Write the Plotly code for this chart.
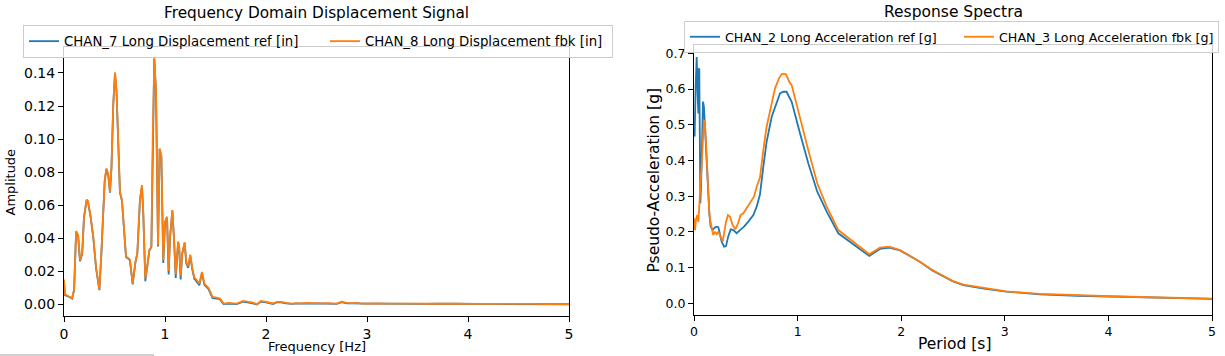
import plotly.graph_objects as go

# ---------------- Left chart: frequency domain displacement ----------------
freq_hz = [0.00, 0.01, 0.04, 0.06, 0.08, 0.10, 0.11, 0.12, 0.14, 0.158, 0.18, 0.198, 0.224, 0.237,
           0.264, 0.29, 0.317, 0.33, 0.35, 0.37, 0.39, 0.403, 0.42, 0.437, 0.455, 0.47, 0.488, 0.505,
           0.52, 0.538, 0.554, 0.574, 0.594, 0.614, 0.634, 0.653, 0.68, 0.707, 0.726, 0.752, 0.772,
           0.785, 0.805, 0.825, 0.845, 0.865, 0.878, 0.894, 0.911, 0.931, 0.947, 0.964, 0.983, 1.00,
           1.02, 1.036, 1.05, 1.073, 1.09, 1.106, 1.13, 1.14, 1.155, 1.17, 1.195, 1.21, 1.23, 1.25,
           1.27, 1.29, 1.31, 1.34, 1.366, 1.39, 1.405, 1.43, 1.45, 1.47, 1.51, 1.545, 1.564, 1.58,
           1.63, 1.71, 1.775, 1.84, 1.87, 1.91, 1.95, 2.00, 2.07, 2.11, 2.15, 2.2, 2.25, 2.3, 2.35,
           2.4, 2.45, 2.5, 2.55, 2.6, 2.65, 2.7, 2.75, 2.8, 2.85, 2.9, 2.95, 3.0, 3.1, 3.2, 3.3, 3.4,
           3.5, 3.6, 3.7, 3.8, 3.9, 4.0, 4.2, 4.4, 4.6, 4.8, 5.0]

disp_fbk = [0.0150, 0.0060, 0.0050, 0.0044, 0.0036, 0.0090, 0.0310, 0.0444, 0.0418, 0.0267, 0.0310,
            0.0530, 0.0634, 0.0625, 0.0530, 0.0408, 0.0226, 0.0180, 0.0089, 0.0310, 0.0590, 0.0750,
            0.0822, 0.0790, 0.0680, 0.0830, 0.1216, 0.1404, 0.1290, 0.0990, 0.0680, 0.0630, 0.0468,
            0.0290, 0.0280, 0.0270, 0.0125, 0.0257, 0.0310, 0.0634, 0.0721, 0.0550, 0.0156, 0.0226,
            0.0330, 0.0350, 0.0990, 0.1490, 0.1290, 0.0358, 0.0943, 0.0900, 0.0267, 0.0500, 0.0530,
            0.0202, 0.0408, 0.0570, 0.0390, 0.0180, 0.0380, 0.0350, 0.0170, 0.0310, 0.0375, 0.0260,
            0.0230, 0.0300, 0.0220, 0.0163, 0.0150, 0.0125, 0.0196, 0.0125, 0.0115, 0.0100, 0.0073,
            0.0044, 0.0040, 0.0034, 0.0018, 0.0004, 0.0008, 0.0004, 0.0020, 0.0015, 0.0010, 0.0000,
            0.0020, 0.0015, 0.0005, 0.0015, 0.0015, 0.0008, 0.0004, 0.0007, 0.0005, 0.0008, 0.0006,
            0.0007, 0.0006, 0.0007, 0.0005, 0.0004, 0.0016, 0.0008, 0.0007, 0.0008, 0.0004, 0.0005,
            0.0006, 0.0004, 0.0005, 0.0004, 0.0004, 0.0003, 0.0004, 0.0003, 0.0003, 0.0002, 0.0003,
            0.0002, 0.0002, 0.0001, 0.0001]

disp_ref = [0.0130, 0.0055, 0.0048, 0.0042, 0.0034, 0.0085, 0.0300, 0.0440, 0.0414, 0.0260, 0.0305,
            0.0526, 0.0630, 0.0621, 0.0526, 0.0404, 0.0220, 0.0175, 0.0085, 0.0305, 0.0586, 0.0746,
            0.0818, 0.0786, 0.0675, 0.0826, 0.1212, 0.1400, 0.1286, 0.0986, 0.0676, 0.0626, 0.0464,
            0.0286, 0.0276, 0.0266, 0.0120, 0.0253, 0.0306, 0.0630, 0.0717, 0.0546, 0.0140, 0.0220,
            0.0326, 0.0346, 0.0986, 0.1486, 0.1286, 0.0350, 0.0939, 0.0890, 0.0250, 0.0495, 0.0526,
            0.0180, 0.0404, 0.0566, 0.0385, 0.0160, 0.0376, 0.0346, 0.0150, 0.0305, 0.0371, 0.0250,
            0.0220, 0.0295, 0.0212, 0.0155, 0.0140, 0.0115, 0.0190, 0.0118, 0.0108, 0.0093, 0.0066,
            0.0038, 0.0035, 0.0029, 0.0013, 0.0001, 0.0004, 0.0001, 0.0016, 0.0011, 0.0006, -0.0002,
            0.0016, 0.0011, 0.0002, 0.0012, 0.0012, 0.0005, 0.0002, 0.0004, 0.0003, 0.0005, 0.0004,
            0.0005, 0.0004, 0.0005, 0.0003, 0.0002, 0.0013, 0.0006, 0.0005, 0.0006, 0.0003, 0.0004,
            0.0004, 0.0003, 0.0004, 0.0003, 0.0003, 0.0002, 0.0003, 0.0002, 0.0002, 0.0001, 0.0002,
            0.0001, 0.0001, 0.0001, 0.0000]

# ---------------- Right chart: response spectra ----------------
period_ref = [0.000, 0.006, 0.016, 0.026, 0.035, 0.042, 0.045, 0.051, 0.058, 0.061, 0.068, 0.077,
              0.087, 0.096, 0.109, 0.122, 0.135, 0.148, 0.161, 0.180, 0.193, 0.212, 0.235, 0.251,
              0.267, 0.290, 0.309, 0.330, 0.354, 0.380, 0.412, 0.444, 0.483, 0.524, 0.573, 0.605,
              0.637, 0.669, 0.701, 0.750, 0.790, 0.830, 0.862, 0.894, 0.920, 0.943, 1.023, 1.103,
              1.190, 1.281, 1.393, 1.538, 1.692, 1.795, 1.885, 1.988, 2.180, 2.300, 2.405, 2.500,
              2.600, 2.800, 3.015, 3.340, 3.700, 4.020, 4.500, 5.000]
psa_ref = [0.485, 0.467, 0.607, 0.690, 0.588, 0.532, 0.658, 0.655, 0.401, 0.280, 0.327, 0.485,
           0.565, 0.550, 0.467, 0.373, 0.289, 0.252, 0.2145, 0.205, 0.210, 0.2145, 0.213, 0.196,
           0.1725, 0.1585, 0.160, 0.1865, 0.207, 0.205, 0.196, 0.205, 0.2145, 0.2285, 0.247, 0.2705,
           0.305, 0.3825, 0.452, 0.5225, 0.557, 0.588, 0.5925, 0.5925, 0.577, 0.5645, 0.476, 0.392,
           0.3125, 0.2565, 0.196, 0.165, 0.1325, 0.152, 0.156, 0.148, 0.1165, 0.092, 0.0745, 0.061,
           0.051, 0.041, 0.0325, 0.025, 0.021, 0.0185, 0.015, 0.012]

period_fbk = [0.000, 0.010, 0.019, 0.032, 0.042, 0.051, 0.061, 0.071, 0.084, 0.0965, 0.109, 0.122,
              0.135, 0.148, 0.161, 0.174, 0.186, 0.203, 0.219, 0.235, 0.257, 0.277, 0.290, 0.309,
              0.328, 0.347, 0.373, 0.399, 0.425, 0.450, 0.476, 0.508, 0.540, 0.579, 0.605, 0.637,
              0.669, 0.701, 0.750, 0.782, 0.820, 0.846, 0.888, 0.920, 0.943, 1.023, 1.103, 1.190,
              1.281, 1.393, 1.538, 1.692, 1.795, 1.885, 1.988, 2.180, 2.300, 2.405, 2.500, 2.600,
              2.800, 3.015, 3.340, 3.700, 4.020, 4.500, 5.000]
psa_fbk = [0.238, 0.205, 0.234, 0.247, 0.228, 0.2985, 0.322, 0.373, 0.4666, 0.513, 0.490, 0.410,
           0.3265, 0.252, 0.224, 0.2005, 0.191, 0.2005, 0.193, 0.2005, 0.187, 0.1725, 0.196, 0.2285,
           0.247, 0.2425, 0.219, 0.207, 0.224, 0.247, 0.252, 0.266, 0.280, 0.2985, 0.3265, 0.352,
           0.429, 0.4946, 0.560, 0.602, 0.630, 0.642, 0.642, 0.620, 0.611, 0.518, 0.429, 0.336,
           0.2705, 0.205, 0.1725, 0.137, 0.1557, 0.1585, 0.149, 0.1165, 0.093, 0.0755, 0.062, 0.052,
           0.042, 0.033, 0.026, 0.022, 0.0195, 0.016, 0.013]

xtick_vals = [0, 1, 2, 3, 4, 5]

W, H = 1225, 356
BLUE, ORANGE = "#1f77b4", "#ff7f0e"
FONT = "DejaVu Sans"


def px(x):
    return x / W


def py(y):
    return 1 - y / H


fig = go.Figure()
fig.add_trace(go.Scatter(x=freq_hz, y=disp_ref, mode="lines", name="CHAN_7 Long Displacement ref [in]",
                         line=dict(color=BLUE, width=1.8), xaxis="x", yaxis="y", legend="legend"))
fig.add_trace(go.Scatter(x=freq_hz, y=disp_fbk, mode="lines", name="CHAN_8 Long Displacement fbk [in]",
                         line=dict(color=ORANGE, width=1.8), xaxis="x", yaxis="y", legend="legend",
                         legendwidth=242))
fig.add_trace(go.Scatter(x=period_ref, y=psa_ref, mode="lines", name="CHAN_2 Long Acceleration ref [g]",
                         line=dict(color=BLUE, width=1.8), xaxis="x2", yaxis="y2", legend="legend2"))
fig.add_trace(go.Scatter(x=period_fbk, y=psa_fbk, mode="lines", name="CHAN_3 Long Acceleration fbk [g]",
                         line=dict(color=ORANGE, width=1.8), xaxis="x2", yaxis="y2", legend="legend2",
                         legendwidth=214))

axis_common = dict(showgrid=False, zeroline=False, showline=True, linecolor="black", linewidth=1,
                   mirror=True, ticks="outside", ticklen=5, tickwidth=1, tickcolor="black",
                   automargin=False)

fig.update_layout(
    width=W, height=H, autosize=False,
    margin=dict(l=0, r=0, t=0, b=0, autoexpand=False),
    paper_bgcolor="white", plot_bgcolor="white",
    font=dict(family=FONT, color="black"),
    xaxis=dict(domain=[px(64), px(569)], range=[0, 5], tickvals=xtick_vals, anchor="y",
               tickfont=dict(size=14, family=FONT), **axis_common),
    yaxis=dict(domain=[py(316), py(46.7)], range=[-0.0071, 0.1559], dtick=0.02, tick0=0,
               tickformat=".2f", anchor="x", tickfont=dict(size=14, family=FONT), **axis_common),
    xaxis2=dict(domain=[px(694), px(1212)], range=[0, 5], tickvals=xtick_vals, anchor="y2",
                tickfont=dict(size=12.5, family=FONT), **axis_common),
    yaxis2=dict(domain=[py(315), py(45)], range=[-0.033, 0.7235], dtick=0.1, tick0=0,
                tickformat=".1f", anchor="x2", tickfont=dict(size=12.5, family=FONT), **axis_common),
    legend=dict(orientation="h", x=px(23), y=py(25), xanchor="left", yanchor="top",
                bgcolor="rgba(255,255,255,0.8)", bordercolor="#cccccc", borderwidth=1,
                font=dict(size=13.3, family=FONT), entrywidth=256, entrywidthmode="pixels",
                itemwidth=30, tracegroupgap=0),
    legend2=dict(orientation="h", x=px(684), y=py(21), xanchor="left", yanchor="top",
                 bgcolor="rgba(255,255,255,0.8)", bordercolor="#cccccc", borderwidth=1,
                 font=dict(size=12.7, family=FONT), entrywidth=229, entrywidthmode="pixels",
                 itemwidth=30, tracegroupgap=0),
    annotations=[
        dict(text="Frequency Domain Displacement Signal", x=px(316.5), y=py(12.5), xref="paper", yref="paper",
             xanchor="center", yanchor="middle", showarrow=False, font=dict(size=15.3, family=FONT)),
        dict(text="Response Spectra", x=px(953), y=py(11.5), xref="paper", yref="paper",
             xanchor="center", yanchor="middle", showarrow=False, font=dict(size=15.5, family=FONT)),
        dict(text="Amplitude", x=px(10), y=py(182.5), xref="paper", yref="paper", textangle=-90,
             xanchor="center", yanchor="middle", showarrow=False, font=dict(size=13, family=FONT)),
        dict(text="Frequency [Hz]", x=px(316.5), y=py(346), xref="paper", yref="paper",
             xanchor="center", yanchor="middle", showarrow=False, font=dict(size=13, family=FONT)),
        dict(text="Pseudo-Acceleration [g]", x=px(653.5), y=py(180), xref="paper", yref="paper",
             textangle=-90, xanchor="center", yanchor="middle", showarrow=False,
             font=dict(size=15.5, family=FONT)),
        dict(text="Period [s]", x=px(954.6), y=py(344), xref="paper", yref="paper",
             xanchor="center", yanchor="middle", showarrow=False, font=dict(size=15.5, family=FONT)),
    ],
    shapes=[dict(type="line", xref="paper", yref="paper", x0=0, x1=px(154), y0=py(355), y1=py(355),
                 line=dict(color="#d0d0d0", width=2))],
    showlegend=True,
)

fig.write_html("out.html", config={"displayModeBar": False},
               post_script="document.body.style.margin='0px';")
